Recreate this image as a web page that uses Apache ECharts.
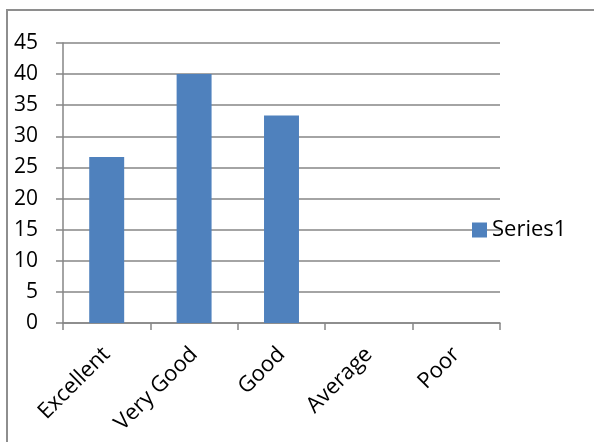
<!DOCTYPE html>
<html>
<head>
<meta charset="utf-8">
<script src="https://cdn.jsdelivr.net/npm/echarts@6/dist/echarts.min.js"></script>
<style>
html,body{margin:0;padding:0;background:#fff;}
#c{width:594px;height:442px;}
</style>
</head>
<body>
<div id="c"></div>
<script>
var categories = ["Excellent", "Very Good", "Good", "Average", "Poor"];
var series1 = [26.67, 40, 33.33, 0, 0];
var seriesName = "Series1";
var yTicks = {min: 0, max: 45, interval: 5};

var chart = echarts.init(document.getElementById('c'), null, {renderer: 'canvas'});
var font = '"Open Sans", Lato, sans-serif';
chart.setOption({
  animation: false,
  backgroundColor: '#ffffff',
  graphic: [{
    type: 'rect',
    shape: {x: 7, y: 10, width: 700, height: 600},
    style: {fill: 'none', stroke: '#8e8e8e', lineWidth: 2},
    z: 100
  }],
  grid: {left: 63, top: 43, right: 94, bottom: 119, containLabel: false},
  legend: {
    data: [seriesName],
    left: 467,
    top: 214,
    icon: 'rect',
    itemWidth: 15,
    itemHeight: 15,
    itemGap: 6,
    textStyle: {fontFamily: font, fontSize: 22, color: '#000'}
  },
  xAxis: {
    type: 'category',
    data: categories,
    boundaryGap: true,
    axisLine: {lineStyle: {color: '#868686', width: 1.5}},
    axisTick: {show: true, length: 7, lineStyle: {color: '#868686', width: 1.5}},
    axisLabel: {rotate: 45, margin: 28, fontFamily: font, fontSize: 22, color: '#000'}
  },
  yAxis: {
    type: 'value',
    min: yTicks.min,
    max: yTicks.max,
    interval: yTicks.interval,
    axisLine: {show: true, lineStyle: {color: '#868686', width: 1.5}},
    axisTick: {show: true, length: 7, lineStyle: {color: '#868686', width: 1.5}},
    axisLabel: {margin: 25, fontFamily: font, fontSize: 21, color: '#000'},
    splitLine: {show: true, lineStyle: {color: '#868686', width: 1.5}}
  },
  series: [{
    name: seriesName,
    type: 'bar',
    data: series1,
    barCategoryGap: '60%',
    itemStyle: {color: '#4f81bd'}
  }]
});
</script>
</body>
</html>
